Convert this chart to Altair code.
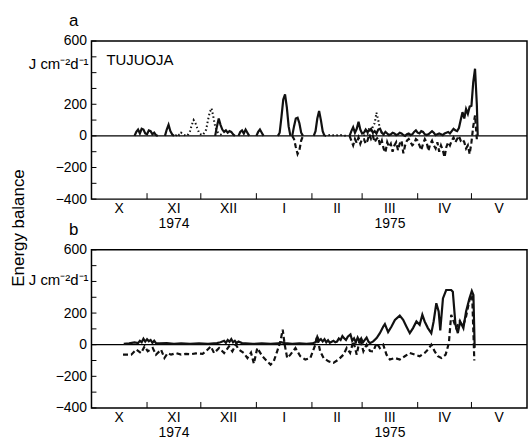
import altair as alt
import pandas as pd

# ---------------- data (days counted from 1 Oct 1974) ----------------
MONTH_EDGES = [0, 31, 61, 92, 123, 151, 182, 212, 243]
MONTH_NAMES = ["X", "XI", "XII", "I", "II", "III", "IV", "V"]
YEAR_NAMES = ["1974", "1975"]
YEAR_MONTH_INDEX = [1, 5]
Y_MINOR = [-400, -300, -200, -100, 0, 100, 200, 300, 400, 500, 600]
Y_LABELS = [600, 200, 0, -200, -400]

# panel a (TUJUOJA); None separates episodes
A_SOLID_DAY = [24, 25, 26, 27, 28, 29, 30, 31, 32, 33, 34, 35, 36, 37, None,
               41, 42, 43, 44, 45, 46, None,
               69, 70, 71, 72, 73, 74, 75, 76, 77, 78, 79, 80, None,
               82, 83, 84, 85, 86, 87, 88, None,
               92, 93, 94, 95, 96, None,
               104, 105, 106, 107, 108, 109, 110, 111, None,
               112, 113, 114, 115, 116, 117, 118, None,
               124, 125, 126, 127, 128, 129, 130, None,
               144, 145, 146, 147, 148, 149, 150, 151, 152, 153, 154, 155, 156, 157, 158, 159,
               160, 161, 162, 163, 164, 165, 166, 167, 168, 169, 170, 171, 172, 173, 174, 175,
               176, 177, 178, 179, 180, 181, 182, 183, 184, 185, 186, 187, 188, 189, 190, 191,
               192, 193, 194, 195, 196, 197, 198, 199, 200, 201, 202, 203, 204, 205, 206, 207,
               208, 209, 210, 211, 212, 213, 214, 215, 215.5]
A_SOLID_VAL = [0, 25, 40, 15, 45, 40, 15, 10, 35, 30, 10, 20, 5, 0, None,
               0, 40, 70, 30, 10, 0, None,
               0, 60, 110, 70, 40, 25, 35, 20, 30, 25, 10, 0, None,
               0, 25, 35, 15, 40, 20, 0, None,
               0, 25, 40, 20, 0, None,
               0, 20, 120, 230, 263, 180, 60, 0, None,
               0, 60, 110, 115, 80, 20, 0, None,
               0, 30, 110, 157, 100, 30, 0, None,
               0, 30, 55, 20, 45, 90, 40, 15, 20, 40, 25, 35, 45, 20, 30, 15,
               40, 45, 20, 10, 25, 15, 5, 10, 20, 15, 5, 10, 20, 15, 5, 0,
               10, 15, 5, 10, 25, 35, 20, 15, 30, 25, 10, 5, 10, 20, 30, 20,
               5, 10, 15, 10, 5, 15, 20, 25, 15, 30, 45, 35, 30, 50, 100, 150,
               110, 170, 140, 185, 190, 340, 425, 200, 0]

A_DASH_DAY = [112, 113, 114, 115, 116, 117, 118, None,
              144, 145, 146, 147, 148, 149, 150, 151, 152, 153, 154, 155, 156, 157, 158, 159,
              160, 161, 162, 163, 164, 165, 166, 167, 168, 169, 170, 171, 172, 173, 174, 175,
              176, 177, 178, 179, 180, 181, 182, 183, 184, 185, 186, 187, 188, 189, 190, 191,
              192, 193, 194, 195, 196, 197, 198, 199, 200, 201, 202, 203, 204, 205, 206, 207,
              208, 209, 210, 211, 212, 213, 214, 215, 215.5]
A_DASH_VAL = [0, -20, -70, -115, -90, -30, 0, None,
              0, -30, -60, -20, -45, -10, -50, -20, -20, -50, -30, 10, -20, 0, -40, -20,
              -10, -60, -30, -80, -105, -40, -70, -50, -100, -60, -40, -90, -50, -30, -110, -60,
              -30, -20, -40, -60, -50, -20, -30, -60, -90, -50, -20, -40, -95, -50, -30, -60,
              -80, -40, -100, -60, -90, -135, -70, -40, -60, -30, -10, -40, -20, 0, -30, -20,
              -40, -80, -60, -115, -40, 60, 130, -20, 0]

A_DOT_DAY = [47, 48, 49, 50, 51, 52, 53, 54, 55, 56, 57, 58, 59, 60, 61, 62, 63, 64, 65,
             66, 67, 68, 69, 70, 71, 72, 73, None,
             130, 133, 136, 139, 142, None,
             152, 153, 154, 155, 156, 157, 158, 159, 160, 161, 162, 163]
A_DOT_VAL = [0, 15, 5, 20, 10, 5, 0, 10, 30, 70, 100, 80, 50, 20, 10, 5, 20, 40, 100,
             150, 175, 120, 60, 30, 15, 10, 0, None,
             0, 5, 3, 5, 0, None,
             0, 30, 15, 50, 20, 60, 80, 147, 100, 40, 20, 0]

# panel b
B_SOLID_DAY = [18, 21, 24, 26, 27, 28, 29, 30, 31, 32, 33, 34, 35, 36, 38, 42, 46, 50, 55,
               60, 65, 70, 72, 74, 75, 76, 77, 78, 79, 80, 81, 82, 84, 86, 90, 95, 100, 104,
               106, 108, 112, 116, 120, 123, 125, 126, 127, 128, 129, 130, 131, 132, 133, 135,
               136, 137, 138, 139, 140, 141, 142, 143, 144.5, 145.5, 146.5, 147.5, 148.5,
               149.5, 150.5, 151.5, 152.5, 153.5, 154.5, 155.4, 157.2, 159.1, 160.9, 162.8,
               163.7, 165.5, 167.4, 169.3, 172, 173.9, 175.7, 177.6, 179.4, 181.3, 183.1,
               184.6, 185.9, 187.7, 189.6, 190.9, 192.4, 193.7, 194.6, 196.1, 197.9, 200.7,
               201.6, 203.1, 204.4, 205.7, 207.5, 209, 210.9, 212.2, 213.1, 213.8]
B_SOLID_VAL = [5, 8, 15, 10, 25, 15, 38, 20, 35, 22, 30, 12, 25, 10, 8, 10, 6, 8, 5,
               8, 6, 10, 15, 25, 12, 30, 18, 35, 15, 25, 10, 20, 10, 8, 5, 8, 5, 8,
               15, 10, 5, 8, 5, 8, 15, 50, 25, 35, 20, 35, 15, 28, 12, 25,
               15, 20, 40, 30, 55, 40, 30, 50, 65, 25, 40, 15, 45,
               20, 40, 15, 30, 45, 20, 10, 21, 42, 73, 115,
               130, 80, 115, 157, 184, 157, 115, 73, 105, 147, 126,
               189, 147, 105, 73, 147, 262, 210, 90, 293, 346, 346,
               335, 126, 73, 147, 105, 210, 293, 340, 314, -20]

B_DASH_DAY = [17.6, 22.2, 25, 27.7, 29.6, 31.4, 34.2, 36, 38.8, 40.7, 42.5, 44.4, 47.2, 50,
              52.7, 55.5, 58.3, 62, 63.8, 66.6, 68.4, 71.2, 74, 76.7, 78.6, 80.5, 82.3, 85,
              87, 89, 90.6, 92.5, 95.3, 98, 99.9, 101.7, 103.6, 105.4, 106.7, 107.8, 109.2,
              111, 113.8, 116.5, 119.3, 122.1, 124.9, 125.8, 127.6, 129.5, 132.2, 135, 137.8,
              140.6, 142.4, 144.3, 146.1, 148, 149.8, 151.7, 153.5, 155.4, 157.2, 159.1,
              160.9, 162.8, 164.6, 166.5, 169.3, 172, 174.8, 177.6, 180.4, 183.1, 185.9,
              187.7, 189.6, 191.5, 193.3, 195.2, 197.6, 199.4, 200.7, 203.5, 205.3, 207.2,
              209, 210.9, 212.4, 213.6]
B_DASH_VAL = [-63, -63, -31, -53, -11, -42, -21, -63, -31, -84, -53, -63, -53, -63,
              -58, -60, -55, -58, -42, -11, -53, -21, -53, -11, -42, 0, -31, -53,
              -84, -50, -120, -21, -73, -105, -126, -105, -42, 21, 95, 0, -84,
              -63, -21, -73, -94, -84, 0, 52, -42, -84, -105, -115, -94,
              -63, -21, -52, 21, -63, 42, -42, 0, -40, -42, 10,
              -21, 0, -63, -94, -84, -94, -73, -52, -63, -73, -52,
              -31, 0, -42, -73, -84, -63, 10, 189, 105, 147, 115,
              178, 283, 314, -100]

# ---------------- helpers ----------------
W, H = 438, 159
XS = alt.Scale(domain=[MONTH_EDGES[0], MONTH_EDGES[-1]], nice=False, zero=False)
YS = alt.Scale(domain=[Y_MINOR[0], Y_MINOR[-1]], nice=False, zero=False)
FONT = "Liberation Sans"
INK = "#111111"


def to_rows(days, vals, name):
    rows, seg = [], 0
    for d, v in zip(days, vals):
        if v is None or d is None:
            seg += 1
            continue
        rows.append({"day": d, "val": v, "seg": f"{name}{seg}"})
    return pd.DataFrame(rows)


X = alt.X("day:Q", scale=XS, axis=None)
Y = alt.Y("val:Q", scale=YS, title=None,
          axis=alt.Axis(values=Y_LABELS, ticks=False, domain=False, grid=False,
                        labelFontSize=14, labelPadding=5, labelFont=FONT,
                        labelColor="black",
                        labelExpr="datum.value < 0 ? '\u2212' + abs(datum.value) : '' + datum.value"))

month_df = pd.DataFrame({
    "name": MONTH_NAMES,
    "day": [(MONTH_EDGES[i] + MONTH_EDGES[i + 1]) / 2 for i in range(len(MONTH_NAMES))],
})
year_df = pd.DataFrame({
    "name": YEAR_NAMES,
    "day": [month_df["day"][i] for i in YEAR_MONTH_INDEX],
})
edge_df = pd.DataFrame({"day": MONTH_EDGES[1:-1]})
ytick_df = pd.DataFrame({"val": Y_MINOR})


def panel(solid, dashed, dotted, letter, unit_y, station=None, ytitle=False):
    layers = []
    layers.append(alt.Chart(pd.DataFrame({"val": [0]})).mark_rule(color="black", strokeWidth=1.2)
                  .encode(y=Y, x=alt.value(0), x2=alt.value(W)))
    layers.append(alt.Chart(ytick_df).mark_rule(color="black", strokeWidth=1)
                  .encode(y=Y, x=alt.value(0), x2=alt.value(5)))
    layers.append(alt.Chart(edge_df).mark_rule(color="black", strokeWidth=1)
                  .encode(x=X, y=alt.value(H - 6), y2=alt.value(H)))
    if solid is not None:
        layers.append(alt.Chart(solid).mark_line(color=INK, strokeWidth=2.2)
                      .encode(x=X, y=Y, detail="seg:N"))
    if dashed is not None:
        layers.append(alt.Chart(dashed).mark_line(color=INK, strokeWidth=2.2, strokeDash=[5, 3])
                      .encode(x=X, y=Y, detail="seg:N"))
    if dotted is not None:
        layers.append(alt.Chart(dotted).mark_line(color=INK, strokeWidth=2, strokeDash=[1.5, 2.5])
                      .encode(x=X, y=Y, detail="seg:N"))
    layers.append(alt.Chart(month_df).mark_text(baseline="top", fontSize=14, font=FONT, color="black")
                  .encode(x=X, y=alt.value(H + 3), text="name:N"))
    layers.append(alt.Chart(year_df).mark_text(baseline="top", fontSize=14, font=FONT, color="black")
                  .encode(x=X, y=alt.value(H + 18), text="name:N"))
    layers.append(alt.Chart(pd.DataFrame({"t": [letter]}))
                  .mark_text(fontSize=17, font=FONT, align="center", baseline="alphabetic", color="black")
                  .encode(x=alt.value(-18), y=alt.value(-15), text="t:N"))
    layers.append(alt.Chart(pd.DataFrame({"t": ["J cm\u207b\u00b2d\u207b\u00b9"]}))
                  .mark_text(fontSize=15, font=FONT, align="right", baseline="alphabetic", color="black")
                  .encode(x=alt.value(-3), y=alt.value(unit_y), text="t:N"))
    if station:
        layers.append(alt.Chart(pd.DataFrame({"t": [station]}))
                      .mark_text(fontSize=15, font=FONT, align="left", baseline="alphabetic", color="black")
                      .encode(x=alt.value(15), y=alt.value(24), text="t:N"))
    if ytitle:
        layers.append(alt.Chart(pd.DataFrame({"t": ["Energy balance"]}))
                      .mark_text(fontSize=17, font=FONT, align="center", baseline="middle",
                                 angle=270, color="black")
                      .encode(x=alt.value(-73), y=alt.value(188), text="t:N"))
    return alt.layer(*layers).properties(width=W, height=H)


pa = panel(to_rows(A_SOLID_DAY, A_SOLID_VAL, "s"), to_rows(A_DASH_DAY, A_DASH_VAL, "d"),
           to_rows(A_DOT_DAY, A_DOT_VAL, "p"), "a", 28, station="TUJUOJA", ytitle=True)
pb = panel(to_rows(B_SOLID_DAY, B_SOLID_VAL, "s"), to_rows(B_DASH_DAY, B_DASH_VAL, "d"),
           None, "b", 35)

chart = alt.vconcat(pa, pb, spacing=51, bounds="flush").properties(
    padding={"left": 9, "top": 10, "right": 0, "bottom": 0}
).configure_view(stroke="black", strokeWidth=1.5).configure_text(font=FONT)

chart.save("out.html", embed_options={"renderer": "svg", "actions": False})
